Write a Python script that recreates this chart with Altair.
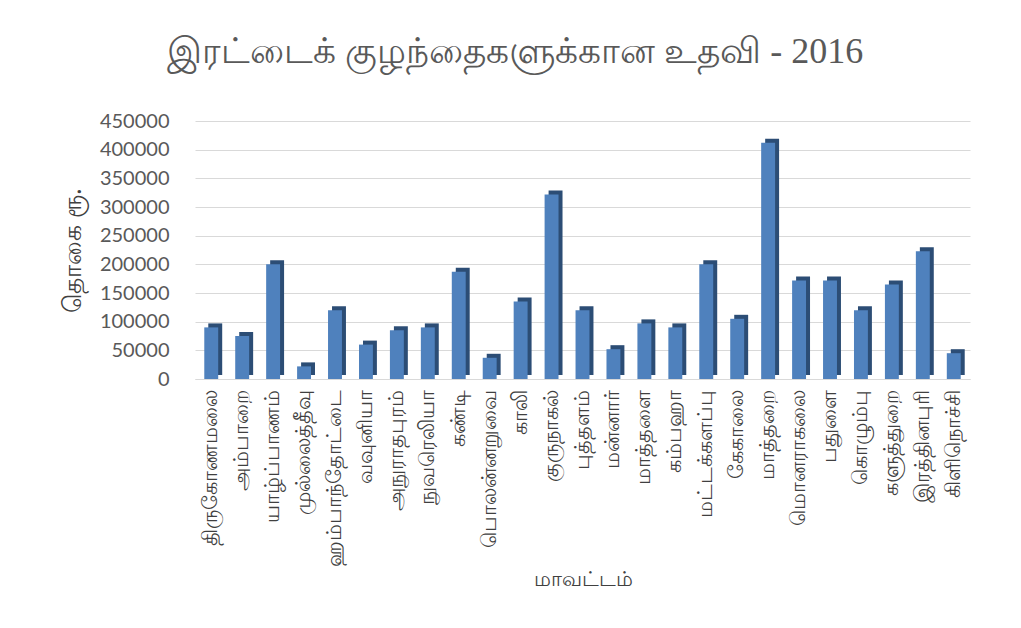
import altair as alt
import pandas as pd

districts = ["திருகோணமலை", "அம்பாறை", "யாழ்ப்பாணம்", "முல்லைத்தீவு", "ஹம்பாந்தோட்டை",
             "வவுனியா", "அநுராதபுரம்", "நுவரெலியா", "கண்டி", "பொலன்னறுவை",
             "காலி", "குருநாகல்", "புத்தளம்", "மன்னார்", "மாத்தளை",
             "கம்பஹா", "மட்டக்களப்பு", "கேகாலை", "மாத்தறை", "மொனராகலை",
             "பதுளை", "கொழும்பு", "களுத்துறை", "இரத்தினபுரி", "கிளிநொச்சி"]
amounts = [90000, 75000, 200000, 22000, 120000,
           60000, 85000, 90000, 187000, 37000,
           135000, 322000, 120000, 52000, 97000,
           90000, 200000, 105000, 412000, 172000,
           172000, 120000, 165000, 223000, 45000]

df = pd.DataFrame({"district": districts, "amount": amounts})

x = alt.X("district:N", sort=districts, title="மாவட்டம்",
          scale=alt.Scale(paddingInner=0.55, paddingOuter=0.3),
          axis=alt.Axis(labelAngle=-90, labelFontSize=21, labelColor="#404040",
                        labelFont="Noto Sans", ticks=False, domain=True, domainColor="#d9d9d9",
                        titleFontSize=21, titleFont="Noto Sans", titleFontWeight="normal",
                        titleColor="#404040", titlePadding=2, labelPadding=10,
                        labelLimit=300))
y = alt.Y("amount:Q", title="தொகை ரூ.",
          scale=alt.Scale(domain=[0, 450000]),
          axis=alt.Axis(values=list(range(0, 450001, 50000)), format="d", labelFontSize=20,
                        labelColor="#595959", labelFont="Lato", ticks=False, domain=False,
                        gridColor="#d9d9d9", titleFontSize=25, titleFont="Noto Sans",
                        titleFontWeight="normal", titleColor="#404040", titlePadding=14,
                        labelPadding=26))

side = alt.Chart(df).mark_bar(color="#2c4d75", xOffset=4, yOffset=-4).encode(x=x, y=y)
front = alt.Chart(df).mark_bar(color="#4f81bd").encode(x=x, y=y)

chart = alt.layer(side, front).properties(
    width=775, height=258,
    title=alt.TitleParams("இரட்டைக் குழந்தைகளுக்கான உதவி - 2016", fontSize=36,
                          font="Liberation Serif", fontWeight="normal", color="#595959",
                          offset=40, frame="bounds", anchor="middle"),
    padding={"left": 52, "top": 26, "right": 30, "bottom": 10}
).configure_view(stroke=None)

chart.save("out.html", embed_options={"renderer": "svg", "actions": False})
